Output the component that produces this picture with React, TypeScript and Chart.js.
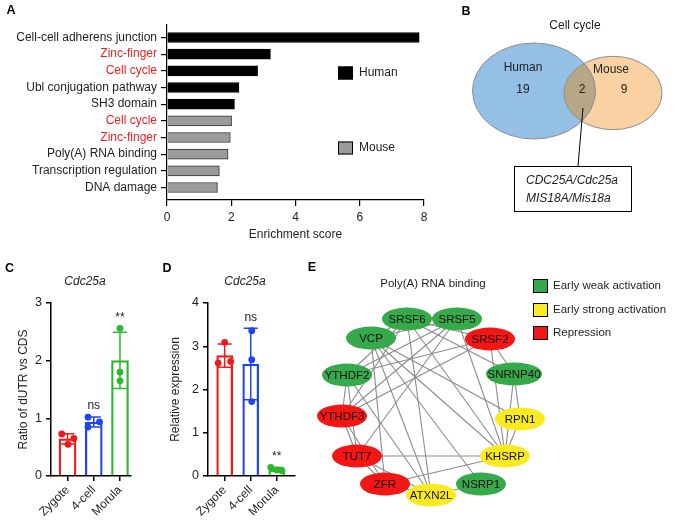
import React, { useEffect, useRef } from 'react';
import { Chart, registerables } from 'chart.js';

Chart.register(...registerables);

const FONT = "Arial, 'Liberation Sans', Helvetica, sans-serif";
const INK = '#1e1e1e';
const RED_TEXT = '#f01e1e';
Chart.defaults.font.family = FONT;
Chart.defaults.font.size = 12;
Chart.defaults.color = INK;

// ---------------- Panel A data ----------------
const enrichCategories = [
  'Cell-cell adherens junction',
  'Zinc-finger',
  'Cell cycle',
  'Ubl conjugation pathway',
  'SH3 domain',
  'Cell cycle',
  'Zinc-finger',
  'Poly(A) RNA binding',
  'Transcription regulation',
  'DNA damage',
];
const enrichSpecies = ['Human', 'Human', 'Human', 'Human', 'Human', 'Mouse', 'Mouse', 'Mouse', 'Mouse', 'Mouse'];
const enrichScores = [7.85, 3.22, 2.82, 2.24, 2.1, 2.01, 1.97, 1.9, 1.63, 1.57];
const enrichHighlighted = [false, true, true, false, false, true, true, false, false, false];
const enrichTicks = [0, 2, 4, 6, 8];
const speciesNames = ['Human', 'Mouse'];

// ---------------- Panel B data ----------------
const vennTitle = 'Cell cycle';
const vennNames = ['Human', 'Mouse'];
const vennUnique = [19, 9];
const vennShared = 2;
const vennSharedGenes = ['CDC25A/Cdc25a', 'MIS18A/Mis18a'];

// ---------------- Panel C / D data ----------------
const stages = ['Zygote', '4-cell', 'Morula'];
const ratioZygote = [0.73, 0.55, 0.65];
const ratio4cell = [1.02, 0.85, 0.94];
const ratioMorula = [2.56, 1.8, 1.65];
const ratioSig = ['', 'ns', '**'];
const ratioTicks = [0, 1, 2, 3];
const exprZygote = [3.09, 2.61, 2.65];
const expr4cell = [3.36, 2.69, 1.72];
const exprMorula = [0.2, 0.14, 0.12];
const exprSig = ['', 'ns', '**'];
const exprTicks = [0, 1, 2, 3, 4];
const geneName = 'Cdc25a';
// horizontal scatter of replicate dots (category units)
const ratioJitter = [[-0.22, 0.02, 0.24], [-0.22, -0.22, 0.22], [0, 0, 0]];
const exprJitter = [[0, -0.25, 0.23], [0.04, 0.04, 0.04], [-0.23, 0, 0.2]];

// ---------------- Panel E data ----------------
const networkTitle = 'Poly(A) RNA binding';
const groupNames = ['Early weak activation', 'Early strong activation', 'Repression'];
const nodeNames = ['SRSF6', 'SRSF5', 'SRSF2', 'SNRNP40', 'RPN1', 'KHSRP', 'NSRP1', 'ZFR', 'ATXN2L', 'TUT7', 'YTHDF3', 'YTHDF2', 'VCP'];
const nodeGroup = [0, 0, 2, 0, 1, 1, 0, 2, 1, 2, 2, 0, 0];
const nodeX = [-24, 26, 59, 83, 89, 74, 50, -46, 0, -74, -89, -84, -60];
const nodeY = [-88, -88, -68, -33, 12, 49, 77, 77, 88, 49, 9, -32, -69];
const networkEdges: [string, string][] = [
  ['SRSF6', 'VCP'], ['SRSF6', 'YTHDF2'], ['SRSF6', 'YTHDF3'], ['SRSF6', 'ATXN2L'], ['SRSF6', 'KHSRP'],
  ['SRSF6', 'SNRNP40'], ['SRSF6', 'SRSF2'], ['SRSF5', 'YTHDF2'], ['SRSF5', 'YTHDF3'], ['SRSF5', 'TUT7'],
  ['SRSF5', 'KHSRP'], ['SRSF5', 'VCP'], ['VCP', 'ZFR'], ['VCP', 'ATXN2L'], ['VCP', 'NSRP1'],
  ['VCP', 'KHSRP'], ['VCP', 'RPN1'], ['SRSF2', 'YTHDF2'], ['SRSF2', 'YTHDF3'], ['SRSF2', 'KHSRP'],
  ['SRSF2', 'SNRNP40'], ['SNRNP40', 'RPN1'], ['SNRNP40', 'KHSRP'], ['RPN1', 'KHSRP'], ['YTHDF2', 'YTHDF3'],
  ['YTHDF2', 'TUT7'], ['YTHDF2', 'ATXN2L'], ['YTHDF3', 'TUT7'], ['YTHDF3', 'ZFR'], ['TUT7', 'KHSRP'],
  ['TUT7', 'ZFR'], ['TUT7', 'ATXN2L'], ['ZFR', 'KHSRP'], ['ZFR', 'ATXN2L'], ['ATXN2L', 'NSRP1'],
];

// ---------------- styles ----------------
const stageColors = ['#f01818', '#1f44f0', '#2db82d'];
const groupColors = ['#36a94b', '#fbea1f', '#f41515'];
const speciesColors = ['#000000', '#9b9b9b'];

function drawText(ctx: CanvasRenderingContext2D, text: string, x: number, y: number, font: string, color = INK, align: CanvasTextAlign = 'center', baseline: CanvasTextBaseline = 'middle') {
  ctx.save();
  ctx.font = font;
  ctx.fillStyle = color;
  ctx.textAlign = align;
  ctx.textBaseline = baseline;
  ctx.fillText(text, x, y);
  ctx.restore();
}
const f = (size: number, style = '') => `${style} ${size}px ${FONT}`.trim();

const mean = (a: number[]) => a.reduce((s, v) => s + v, 0) / a.length;
const sd = (a: number[]) => {
  const m = mean(a);
  return Math.sqrt(a.reduce((s, v) => s + (v - m) * (v - m), 0) / (a.length - 1));
};

// ---------------- Panel A ----------------
function enrichConfig(): any {
  const mk = (sp: string) =>
    enrichScores.map((v, i) => (enrichSpecies[i] === sp ? { x: v, y: i } : null)).filter((d) => d);
  const legendPlugin = {
    id: 'enrichDecor',
    afterDraw(chart: any) {
      const ctx = chart.ctx as CanvasRenderingContext2D;
      drawText(ctx, 'A', 11, 11, f(12.5, 'bold'), '#000');
      const ys = [73, 148];
      speciesNames.forEach((name, i) => {
        const ds = chart.data.datasets[i];
        ctx.save();
        ctx.fillStyle = ds.backgroundColor;
        ctx.fillRect(338, ys[i] - 6.5, 15, 13);
        ctx.strokeStyle = '#000';
        ctx.lineWidth = 1;
        ctx.strokeRect(338.5, ys[i] - 6, 14, 12);
        ctx.restore();
        drawText(ctx, name, 359, ys[i], f(12), INK, 'left');
      });
    },
  };
  const axisCommon = {
    offset: false,
    grid: { display: true, offset: false, drawOnChartArea: false, drawTicks: true, tickLength: 6, color: '#000', lineWidth: 1.2 },
    border: { display: true, color: '#000', width: 1.2 },
  };
  return {
    type: 'bar',
    data: {
      datasets: speciesNames.map((sp, i) => ({
        label: sp,
        data: mk(sp),
        backgroundColor: speciesColors[i],
        borderColor: i === 0 ? '#000' : '#333',
        borderWidth: 1,
        barThickness: 10,
        grouped: false,
      })),
    },
    options: {
      indexAxis: 'y',
      responsive: false,
      animation: false,
      layout: { padding: { top: 25, right: 26, left: 0, bottom: 0 } },
      plugins: { legend: { display: false }, tooltip: { enabled: false } },
      scales: {
        x: {
          type: 'linear',
          position: 'bottom',
          min: 0,
          max: 8,
          afterBuildTicks: (s: any) => { s.ticks = enrichTicks.map((v) => ({ value: v })); },
          ticks: { font: { size: 12 }, color: INK, padding: 4 },
          title: { display: true, text: 'Enrichment score', font: { size: 12 }, color: INK, padding: { top: 0, bottom: 8 } },
          afterFit: (s: any) => { s.height = 50; },
          ...axisCommon,
        },
        y: {
          type: 'linear',
          min: -0.75,
          max: 9.75,
          reverse: true,
          afterBuildTicks: (s: any) => { s.ticks = enrichCategories.map((_, i) => ({ value: i })); },
          ticks: {
            font: { size: 12 },
            padding: 4,
            callback: (v: any) => enrichCategories[v],
            color: (c: any) => (enrichHighlighted[c.index] ? RED_TEXT : INK),
          },
          afterFit: (s: any) => { s.width = 167; },
          ...axisCommon,
        },
      },
    },
    plugins: [legendPlugin],
  };
}

// ---------------- Panel B ----------------
const vennCx = [84, 163];
const vennCy = [91, 93];
const vennRx = [61.5, 49];
const vennRy = [48, 36.7];
function vennConfig(): any {
  const vennPlugin = {
    id: 'venn',
    beforeDatasetsDraw(chart: any) {
      const ctx = chart.ctx as CanvasRenderingContext2D;
      const xs = chart.scales.x;
      const ys = chart.scales.y;
      const E = [0, 1].map((i) => {
        const x = xs.getPixelForValue(vennCx[i]);
        const y = ys.getPixelForValue(vennCy[i]);
        return {
          x,
          y,
          rx: xs.getPixelForValue(vennCx[i] + vennRx[i]) - x,
          ry: Math.abs(ys.getPixelForValue(vennCy[i] + vennRy[i]) - y),
        };
      });
      const path = (e: any) => { ctx.beginPath(); ctx.ellipse(e.x, e.y, e.rx, e.ry, 0, 0, Math.PI * 2); };
      ctx.save();
      path(E[0]); ctx.fillStyle = '#93c0e4'; ctx.fill();
      path(E[1]); ctx.fillStyle = '#f9d1a3'; ctx.fill();
      ctx.save(); path(E[0]); ctx.clip(); path(E[1]); ctx.fillStyle = '#b6a887'; ctx.fill(); ctx.restore();
      ctx.strokeStyle = '#8e8e8e'; ctx.lineWidth = 1;
      path(E[0]); ctx.stroke();
      path(E[1]); ctx.stroke();
      ctx.restore();
    },
    afterDraw(chart: any) {
      const ctx = chart.ctx as CanvasRenderingContext2D;
      drawText(ctx, 'B', 16, 12, f(12.5, 'bold'), '#000');
      drawText(ctx, vennTitle, 125, 26, f(12));
      drawText(ctx, vennNames[0], 73, 68, f(12));
      drawText(ctx, String(vennUnique[0]), 73, 90, f(12));
      drawText(ctx, vennNames[1], 161, 70, f(12));
      drawText(ctx, String(vennUnique[1]), 174, 90, f(12));
      drawText(ctx, String(vennShared), 132, 90, f(12));
      ctx.save();
      ctx.strokeStyle = '#000';
      ctx.lineWidth = 1;
      ctx.beginPath(); ctx.moveTo(133, 108); ctx.lineTo(128, 166); ctx.stroke();
      ctx.fillStyle = '#fff';
      ctx.fillRect(64.5, 166.5, 117, 45);
      ctx.strokeRect(64.5, 166.5, 117, 45);
      ctx.restore();
      vennSharedGenes.forEach((g, i) => drawText(ctx, g, 76, 181 + i * 18, f(12, 'italic'), INK, 'left'));
    },
  };
  return {
    type: 'scatter',
    data: { datasets: [{ data: vennCx.map((x, i) => ({ x, y: vennCy[i] })), pointRadius: 0 }] },
    options: {
      responsive: false,
      animation: false,
      layout: { padding: 0 },
      plugins: { legend: { display: false }, tooltip: { enabled: false } },
      scales: {
        x: { type: 'linear', display: false, min: 0, max: 226 },
        y: { type: 'linear', display: false, min: 0, max: 250, reverse: true },
      },
    },
    plugins: [vennPlugin],
  };
}

// ---------------- Panel C / D ----------------
function dotBarConfig(p: any): any {
  const means = p.reps.map(mean);
  const sds = p.reps.map(sd);
  const datasets: any[] = p.reps.map((r: number[], i: number) => ({
    type: 'scatter',
    data: r.map((v, j) => ({ x: i + p.jitter[i][j], y: v })),
    pointRadius: 3.4,
    pointBackgroundColor: stageColors[i],
    pointBorderColor: stageColors[i],
    pointBorderWidth: 0,
    order: 0,
  }));
  datasets.push({
    type: 'bar',
    data: means.map((m: number, i: number) => ({ x: i, y: m })),
    backgroundColor: 'rgba(255,255,255,0)',
    borderColor: stageColors,
    borderWidth: 1.6,
    barThickness: p.barW,
    order: 1,
  });
  const plugin = {
    id: 'dotbar',
    afterDatasetDraw(chart: any, args: any) {
      if (args.meta.type !== 'bar') return;
      const xs = chart.scales.x;
      const ys = chart.scales.y;
      const ctx = chart.ctx as CanvasRenderingContext2D;
      ctx.save();
      ctx.lineWidth = 1.5;
      means.forEach((m: number, i: number) => {
        const x = xs.getPixelForValue(i);
        const yTop = ys.getPixelForValue(m + sds[i]);
        const yBot = ys.getPixelForValue(Math.max(0, m - sds[i]));
        const cap = 7;
        ctx.strokeStyle = stageColors[i];
        ctx.beginPath();
        ctx.moveTo(x, yBot); ctx.lineTo(x, yTop);
        ctx.moveTo(x - cap, yTop); ctx.lineTo(x + cap, yTop);
        ctx.moveTo(x - cap, yBot); ctx.lineTo(x + cap, yBot);
        ctx.stroke();
      });
      ctx.restore();
    },
    afterDraw(chart: any) {
      const ctx = chart.ctx as CanvasRenderingContext2D;
      const xs = chart.scales.x;
      const ys = chart.scales.y;
      drawText(ctx, p.letter, p.letterX, 19, f(12.5, 'bold'), '#000');
      drawText(ctx, geneName, p.titleX, 32, f(12, 'italic'));
      p.sig.forEach((s: string, i: number) => {
        if (!s) return;
        const top = Math.max(Math.max(...p.reps[i]), means[i] + sds[i]);
        drawText(ctx, s, xs.getPixelForValue(i), ys.getPixelForValue(top) - 11, f(12));
      });
    },
  };
  const axisCommon = {
    offset: false,
    grid: { display: true, offset: false, drawOnChartArea: false, drawTicks: true, tickLength: 5, color: '#000', lineWidth: 1.5 },
    border: { display: true, color: '#000', width: 1.5 },
  };
  return {
    type: 'bar',
    data: { datasets },
    options: {
      responsive: false,
      animation: false,
      layout: { padding: { top: 53, right: p.padRight, left: 0, bottom: 0 } },
      plugins: { legend: { display: false }, tooltip: { enabled: false } },
      scales: {
        x: {
          type: 'linear',
          min: p.xMin,
          max: p.xMax,
          afterBuildTicks: (s: any) => { s.ticks = stages.map((_, i) => ({ value: i })); },
          ticks: { font: { size: 12 }, color: INK, padding: 2, minRotation: 45, maxRotation: 45, callback: (v: any) => stages[v] },
          afterFit: (s: any) => { s.height = 46; s.paddingLeft = 0; s.paddingRight = 0; },
          ...axisCommon,
        },
        y: {
          type: 'linear',
          min: 0,
          max: p.ticks[p.ticks.length - 1],
          afterBuildTicks: (s: any) => { s.ticks = p.ticks.map((v: number) => ({ value: v })); },
          ticks: { font: { size: 12.5 }, color: INK, padding: 4 },
          title: { display: true, text: p.yTitle, font: { size: 12 }, color: INK, padding: { top: p.yTitlePad, bottom: 0 } },
          afterFit: (s: any) => { s.width = p.yWidth; },
          ...axisCommon,
        },
      },
    },
    plugins: [plugin],
  };
}

// ---------------- Panel E ----------------
function networkConfig(): any {
  const idx = (n: string) => nodeNames.indexOf(n);
  const datasets: any[] = networkEdges.map(([a, b]) => ({
    type: 'scatter',
    data: [
      { x: nodeX[idx(a)], y: nodeY[idx(a)] },
      { x: nodeX[idx(b)], y: nodeY[idx(b)] },
    ],
    showLine: true,
    borderColor: '#8c8c8c',
    borderWidth: 1.1,
    pointRadius: 0,
  }));
  datasets.unshift({
    type: 'scatter',
    data: nodeX.map((x, i) => ({ x, y: nodeY[i] })),
    pointRadius: 0,
  });
  const plugin = {
    id: 'network',
    afterDatasetsDraw(chart: any) {
      const ctx = chart.ctx as CanvasRenderingContext2D;
      const meta = chart.getDatasetMeta(0);
      ctx.save();
      ctx.font = f(11.5);
      meta.data.forEach((pt: any, i: number) => {
        const tw = ctx.measureText(nodeNames[i]).width;
        const rx = Math.max(25, tw / 2 + 1.5);
        ctx.beginPath();
        ctx.ellipse(pt.x, pt.y, rx, 11.5, 0, 0, Math.PI * 2);
        ctx.fillStyle = groupColors[nodeGroup[i]];
        ctx.fill();
        drawText(ctx, nodeNames[i], pt.x, pt.y + 0.5, f(11.5), '#111');
      });
      ctx.restore();
    },
    afterDraw(chart: any) {
      const ctx = chart.ctx as CanvasRenderingContext2D;
      drawText(ctx, 'E', 12, 18, f(12.5, 'bold'), '#000');
      drawText(ctx, networkTitle, 133, 34, f(11.5));
      const ys = [36, 60, 83];
      groupNames.forEach((g, i) => {
        ctx.save();
        ctx.fillStyle = groupColors[i];
        ctx.fillRect(233, ys[i] - 7, 15, 14);
        ctx.strokeStyle = '#000';
        ctx.lineWidth = 1;
        ctx.strokeRect(233.5, ys[i] - 6.5, 14, 13);
        ctx.restore();
        drawText(ctx, g, 253, ys[i], f(11.5), INK, 'left');
      });
    },
  };
  return {
    type: 'scatter',
    data: { datasets },
    options: {
      responsive: false,
      animation: false,
      layout: { padding: 0 },
      plugins: { legend: { display: false }, tooltip: { enabled: false } },
      scales: {
        x: { type: 'linear', display: false, min: -131, max: 245 },
        y: { type: 'linear', display: false, min: -157, max: 115, reverse: true },
      },
    },
    plugins: [plugin],
  };
}

function ChartCanvas({ make, left, top, width, height }: { make: () => any; left: number; top: number; width: number; height: number }) {
  const ref = useRef<HTMLCanvasElement>(null);
  useEffect(() => {
    const chart = new Chart(ref.current as HTMLCanvasElement, make());
    return () => chart.destroy();
  }, []);
  return (
    <canvas
      ref={ref}
      width={width}
      height={height}
      style={{ position: 'absolute', left, top, width, height }}
    />
  );
}

export default function App() {
  return (
    <div style={{ position: 'absolute', left: 0, top: 0, width: 676, height: 522, background: '#fff', overflow: 'hidden' }}>
      <ChartCanvas make={enrichConfig} left={0} top={0} width={450} height={250} />
      <ChartCanvas make={vennConfig} left={450} top={0} width={226} height={250} />
      <ChartCanvas
        make={() =>
          dotBarConfig({
            reps: [ratioZygote, ratio4cell, ratioMorula],
            jitter: ratioJitter,
            sig: ratioSig,
            ticks: ratioTicks,
            xMin: -0.63,
            xMax: 2.42,
            yTitle: 'Ratio of dUTR vs CDS',
            yTitlePad: 16,
            yWidth: 51,
            padRight: 3,
            barW: 17,
            letter: 'C',
            letterX: 9.5,
            titleX: 85,
          })
        }
        left={0}
        top={250}
        width={135}
        height={272}
      />
      <ChartCanvas
        make={() =>
          dotBarConfig({
            reps: [exprZygote, expr4cell, exprMorula],
            jitter: exprJitter,
            sig: exprSig,
            ticks: exprTicks,
            xMin: -0.64,
            xMax: 2.7,
            yTitle: 'Relative expression',
            yTitlePad: 33.5,
            yWidth: 73,
            padRight: 5,
            barW: 16,
            letter: 'D',
            letterX: 32,
            titleX: 110,
          })
        }
        left={135}
        top={250}
        width={165}
        height={272}
      />
      <ChartCanvas make={networkConfig} left={300} top={250} width={376} height={272} />
    </div>
  );
}
